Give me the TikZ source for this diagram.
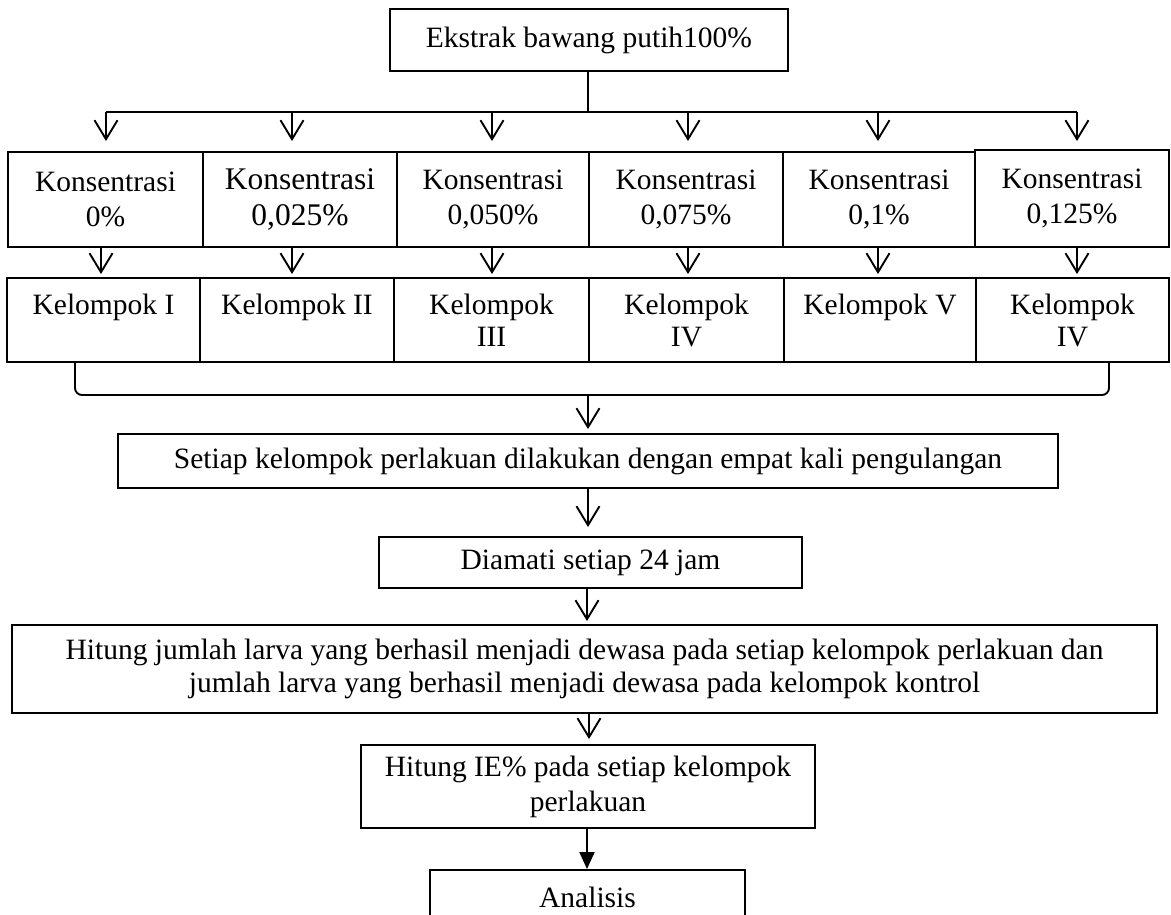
\documentclass[tikz,border=0pt]{standalone}
\usepackage{fontspec}
\setmainfont{Liberation Serif}
\usetikzlibrary{arrows.meta}
\begin{document}
\begin{tikzpicture}[x=1pt,y=-1pt,
  box/.style={draw, line width=1.9pt, inner sep=0pt, align=center,
    font=\fontsize{29.5}{33}\selectfont},
  kbox/.style={box, minimum height=95pt, font=\fontsize{29.5}{35}\selectfont},
  gbox/.style={box, minimum height=84pt, font=\fontsize{29.5}{32}\selectfont},
  line/.style={line width=1.9pt},
  arr/.style={line width=1.9pt, -{Straight Barb[length=19pt,width=23pt,line width=1.9pt]}},
  farr/.style={line width=1.9pt, -{Triangle[length=17pt,width=15pt]}}
]
\useasboundingbox (0,0) rectangle (1171,915);
\clip (0,0) rectangle (1171,915);

% top box
\node[box, minimum width=398pt, minimum height=62pt] (top) at (589,40) {Ekstrak bawang putih100\%};

% concentration row
\node[kbox, minimum width=195pt] (k1) at (105.5,199.5) {Konsentrasi\\0\%};
\node[kbox, minimum width=194pt, font=\fontsize{31.5}{36}\selectfont] (k2) at (300,199.5) {Konsentrasi\\0,025\%};
\node[kbox, minimum width=192pt] (k3) at (493,199.5) {Konsentrasi\\0,050\%};
\node[kbox, minimum width=194pt] (k4) at (686,199.5) {Konsentrasi\\0,075\%};
\node[kbox, minimum width=192pt] (k5) at (879,199.5) {Konsentrasi\\0,1\%};
\node[kbox, minimum width=194pt, minimum height=97pt] (k6) at (1072,198.5) {Konsentrasi\\0,125\%};

% group row
\node[gbox, minimum width=193pt] (g1) at (103.5,320) {Kelompok I\\\phantom{I}};
\node[gbox, minimum width=194pt] (g2) at (297,320) {Kelompok II\\\phantom{I}};
\node[gbox, minimum width=195pt] (g3) at (491.5,320) {Kelompok\\III};
\node[gbox, minimum width=195pt] (g4) at (686.5,320) {Kelompok\\IV};
\node[gbox, minimum width=192pt] (g5) at (880,320) {Kelompok V\\\phantom{I}};
\node[gbox, minimum width=193pt] (g6) at (1072.5,320) {Kelompok\\IV};

% lower boxes
\node[box, minimum width=940pt, minimum height=54pt] (s) at (588,461) {Setiap kelompok perlakuan dilakukan dengan empat kali pengulangan};
\node[box, minimum width=423pt, minimum height=51pt] (d) at (590.5,562.5) {Diamati setiap 24 jam};
\node[box, minimum width=1145pt, minimum height=88pt] (h) at (584.5,669) {Hitung jumlah larva yang berhasil menjadi dewasa pada setiap kelompok perlakuan dan\\jumlah larva yang berhasil menjadi dewasa pada kelompok kontrol};
\node[box, minimum width=454pt, minimum height=83pt, font=\fontsize{29.5}{35}\selectfont] (ie) at (588,786.5) {Hitung IE\% pada setiap kelompok\\perlakuan};
\node[box, minimum width=315pt, minimum height=54pt] (an) at (587.5,897) {Analisis};

% distribution lines
\coordinate (tj) at (588,112);
\coordinate (h1) at (106,112);
\coordinate (h2) at (292,112);
\coordinate (h3) at (492,112);
\coordinate (h4) at (688,112);
\coordinate (h5) at (878,112);
\coordinate (h6) at (1077,112);
\draw[line] (top.south -| tj) -- (tj);
\draw[line] (h1) -- (h6);
\draw[arr] (h1) -- ([yshift=10pt]h1 |- k1.north);
\draw[arr] (h2) -- ([yshift=10pt]h2 |- k2.north);
\draw[arr] (h3) -- ([yshift=10pt]h3 |- k3.north);
\draw[arr] (h4) -- ([yshift=10pt]h4 |- k4.north);
\draw[arr] (h5) -- ([yshift=10pt]h5 |- k5.north);
\draw[arr] (h6) -- ([yshift=8pt]h6 |- k6.north);

% concentration -> group
\draw[arr] ([xshift=-4.5pt]k1.south) -- ([xshift=-4.5pt,yshift=3pt]k1.south |- g1.north);
\draw[arr] ([xshift=-8pt]k2.south) -- ([xshift=-8pt,yshift=3pt]k2.south |- g2.north);
\draw[arr] ([xshift=-1pt]k3.south) -- ([xshift=-1pt,yshift=3pt]k3.south |- g3.north);
\draw[arr] ([xshift=2pt]k4.south) -- ([xshift=2pt,yshift=3pt]k4.south |- g4.north);
\draw[arr] ([xshift=-1pt]k5.south) -- ([xshift=-1pt,yshift=3pt]k5.south |- g5.north);
\draw[arr] ([xshift=5pt]k6.south) -- ([xshift=5pt,yshift=3pt]k6.south |- g6.north);

% bracket
\coordinate (bj) at (588,395);
\draw[line, rounded corners=7pt] ([xshift=-28.5pt]g1.south) |- (bj);
\draw[line, rounded corners=7pt] ([xshift=36.5pt]g6.south) |- (bj);
\draw[arr] (bj) -- ([yshift=4pt]bj |- s.north);

% chain
\draw[arr] (s.south) -- ([yshift=9pt]s.south |- d.north);
\draw[arr] ([xshift=-3.5pt]d.south) -- ([xshift=-3.5pt,yshift=3pt]d.south |- h.north);
\draw[arr] ([xshift=4.5pt]h.south) -- ([xshift=4.5pt,yshift=5pt]h.south |- ie.north);
\draw[farr] ([xshift=-1pt]ie.south) -- ([xshift=-1pt]ie.south |- an.north);
\end{tikzpicture}
\end{document}
